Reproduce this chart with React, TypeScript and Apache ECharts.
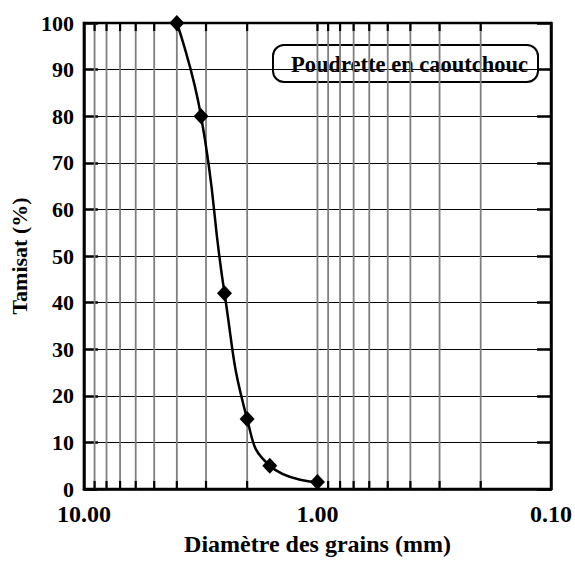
import React, { useEffect, useRef } from "react";
import * as echarts from "echarts";

const diameters = [4.0, 3.15, 2.5, 2.0, 1.6, 1.0];
const passing = [100, 80, 42, 15, 5, 1.5];
const minorGridValues = [9, 8, 7, 6, 5, 4, 3, 2, 1, 0.9, 0.8, 0.7, 0.6, 0.5, 0.4, 0.3, 0.2];
const seriesName = "Poudrette en caoutchouc";
const xTitle = "Diamètre des grains (mm)";
const yTitle = "Tamisat (%)";

const FONT = "'Liberation Serif', 'Times New Roman', serif";

export default function App() {
  const ref = useRef<HTMLDivElement>(null);
  useEffect(() => {
    document.body.style.margin = "0";
    document.body.style.overflow = "hidden";
    const chart = echarts.init(ref.current!, null, { renderer: "svg" });
    const base = { fontFamily: FONT, fontWeight: "bold" as const, color: "#000" };
    chart.setOption({
      animation: false,
      backgroundColor: "#fff",
      grid: {
        left: 81,
        right: 24,
        top: 23,
        bottom: 69,
        show: true,
        borderColor: "#000",
        borderWidth: 2.5,
      },
      xAxis: {
        type: "log",
        logBase: 10,
        min: 0.1,
        max: 10,
        inverse: true,
        name: xTitle,
        nameLocation: "middle",
        nameGap: 43,
        nameTextStyle: { ...base, fontSize: 24 },
        axisLine: { show: true, lineStyle: { color: "#000", width: 2.5 } },
        axisTick: { show: false },
        splitLine: { show: false },
        axisLabel: {
          ...base,
          fontSize: 24,
          margin: 13,
          showMinLabel: true,
          showMaxLabel: true,
          formatter: (v: number) => Number(v).toFixed(2),
        },
      },
      yAxis: [
        {
          type: "value",
          min: 0,
          max: 100,
          interval: 10,
          name: yTitle,
          nameLocation: "middle",
          nameGap: 46,
          nameTextStyle: { ...base, fontSize: 22 },
          axisLine: { show: true, lineStyle: { color: "#000", width: 2.5 } },
          axisTick: { show: true, inside: true, length: 14, lineStyle: { color: "#000", width: 2.5 } },
          splitLine: { show: true, lineStyle: { color: "#000", width: 1 } },
          axisLabel: { ...base, fontSize: 22, margin: 10 },
        },
        {
          type: "value",
          position: "right",
          min: 0,
          max: 100,
          interval: 10,
          axisLine: { show: true, lineStyle: { color: "#000", width: 2.5 } },
          axisTick: { show: true, inside: true, length: 14, lineStyle: { color: "#000", width: 2.5 } },
          splitLine: { show: false },
          axisLabel: { show: false },
        },
      ],
      series: [
        {
          type: "custom",
          silent: true,
          z: 1,
          clip: false,
          data: minorGridValues.map((v) => [v, 0]),
          encode: { x: 0, y: 1 },
          renderItem: (params: any, api: any) => {
            const v = api.value(0);
            const b = api.coord([v, 0]);
            const t = api.coord([v, 100]);
            return {
              type: "group",
              children: [
                {
                  type: "line",
                  shape: { x1: b[0], y1: b[1], x2: t[0], y2: t[1] },
                  style: { stroke: "#7f7f7f", lineWidth: 1.8 },
                },
                {
                  type: "line",
                  shape: { x1: b[0], y1: b[1], x2: b[0], y2: b[1] - 8 },
                  style: { stroke: "#000", lineWidth: 2.2 },
                },
                {
                  type: "line",
                  shape: { x1: t[0], y1: t[1], x2: t[0], y2: t[1] + 8 },
                  style: { stroke: "#000", lineWidth: 2.2 },
                },
              ],
            };
          },
        },
        {
          name: seriesName,
          type: "line",
          z: 5,
          data: diameters.map((d, i) => [d, passing[i]]),
          smooth: 0.5,
          symbol: "diamond",
          symbolSize: [15, 16],
          itemStyle: { color: "#000" },
          lineStyle: { color: "#000", width: 2.5 },
        },
      ],
      graphic: [
        {
          type: "group",
          z: 20,
          children: [
            {
              type: "rect",
              shape: { x: 273, y: 45, width: 265, height: 37, r: 11 },
              style: { fill: "#fff", stroke: "#000", lineWidth: 2 },
            },
            {
              type: "text",
              x: 291,
              y: 64,
              style: {
                text: seriesName,
                font: `bold 22.5px ${FONT}`,
                fill: "#000",
                verticalAlign: "middle",
                align: "left",
              },
            },
          ],
        },
      ],
    });
    return () => chart.dispose();
  }, []);
  return <div ref={ref} style={{ width: 575, height: 561 }} />;
}
